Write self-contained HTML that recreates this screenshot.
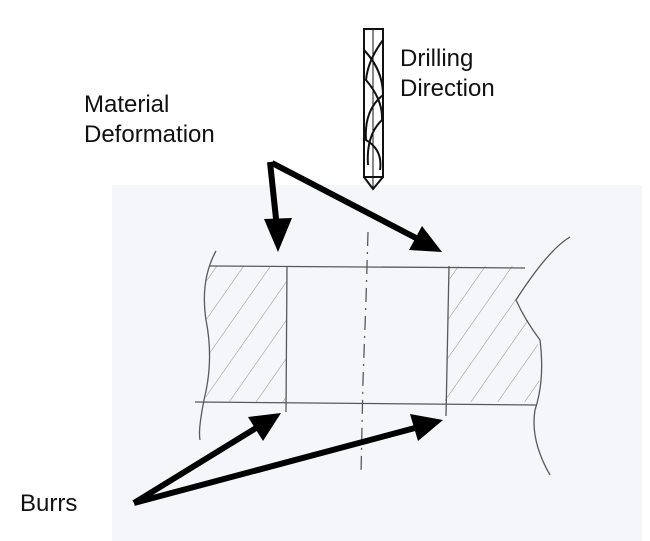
<!DOCTYPE html>
<html><head><style>
body{margin:0;width:650px;height:541px;background:#fff;overflow:hidden;position:relative;font-family:"Liberation Sans",Arial,sans-serif}
.t{position:absolute;font-size:24px;line-height:30px;color:#111}
</style></head><body>
<svg width="650" height="541" style="position:absolute;left:0;top:0">
<defs>
<pattern id="hatch" width="22" height="22" patternUnits="userSpaceOnUse" patternTransform="rotate(35)"><line x1="0" y1="0" x2="0" y2="22" stroke="#8a8f96" stroke-width="1"/></pattern>
</defs>
<rect x="112" y="185" width="530" height="356" fill="#f4f6f9"/>
<path d="M212,266 L287,266 L286,402 L205,402 Q212,360 206,320 Q200,290 212,266 Z" fill="url(#hatch)"/>
<path d="M450,266 L522,266 Q510,300 535,330 Q545,370 535,402 L445,402 Z" fill="url(#hatch)"/>
<g stroke="#555a60" stroke-width="1.3" fill="none">
<line x1="210" y1="266" x2="525" y2="268"/>
<line x1="195" y1="402" x2="536" y2="405"/>
<path d="M287,266 L286,412"/>
<path d="M449,266 L446,416"/>
<path d="M216,251 Q200,280 206,320 Q214,360 204,400 Q198,430 200,440"/>
<path d="M570,237 Q548,250 516,300 Q525,320 540,340 Q545,380 535,410 Q530,440 550,475"/>
<path d="M368,232 L366,300 L363,380 L361,475" stroke-dasharray="14,6,2,6"/>
</g>
<g stroke="#111" stroke-width="2" fill="none">
<rect x="364" y="29" width="19" height="148"/>
<path d="M364,50 Q383,70 383,95 Q364,110 366,140 Q383,150 380,170"/>
<path d="M383,40 Q368,60 366,80 Q383,100 382,120 Q366,135 368,165"/>
<path d="M364,177 L373,189 L383,177"/>
<line x1="373" y1="29" x2="373" y2="190" stroke-width="1"/>
</g>
<g stroke="#000" stroke-width="6" fill="none">
<line x1="270" y1="162" x2="277" y2="228"/>
<line x1="272" y1="163" x2="416" y2="238"/>
<line x1="134" y1="503" x2="256" y2="428"/>
<line x1="134" y1="503" x2="415" y2="428"/>
</g>
<g fill="#000">
<polygon points="278,252 264,219 292,218"/>
<polygon points="442,252 409,250 422,226"/>
<polygon points="281,413 263,441 248,417"/>
<polygon points="443,420 418,441 410,414"/>
</g>
</svg>
<div class="t" style="left:84px;top:90px">Material<br>Deformation</div>
<div class="t" style="left:400px;top:44px">Drilling<br>Direction</div>
<div class="t" style="left:20px;top:489px">Burrs</div>
</body></html>
